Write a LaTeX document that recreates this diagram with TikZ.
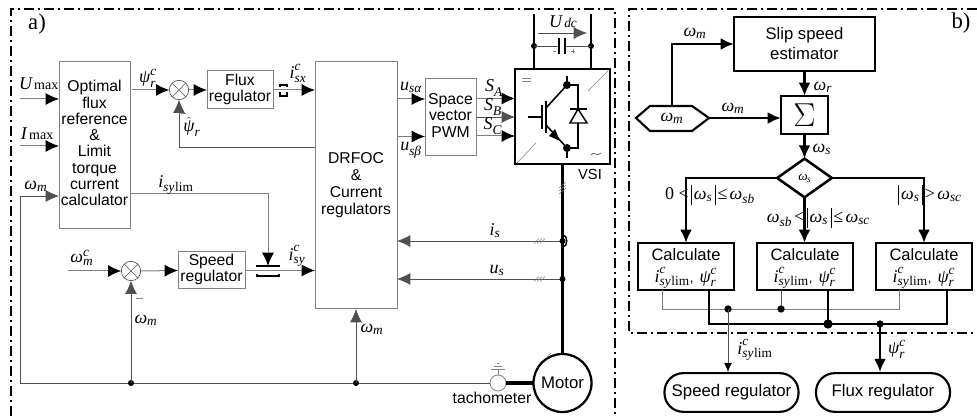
\documentclass[tikz,border=0pt]{standalone}
\usepackage{fontspec}
\setmainfont{Liberation Sans}
\newfontfamily\tmfont{Liberation Serif}
\usetikzlibrary{arrows.meta,calc,shapes.geometric}
\newcommand\tmi{\fontsize{13.5}{15}\selectfont\tmfont\itshape}
\newcommand\tms{\fontsize{10}{12}\selectfont\tmfont\itshape}
\newcommand\tmr{\fontsize{10.5}{13}\selectfont\tmfont}
\newcommand\tmo{\fontsize{13.5}{15}\selectfont\tmfont}
\newcommand\vsb[2]{$\hbox{\tmi #1}_{\hbox{\tms #2}}$}
\newcommand\vssx[3]{$\hbox{\tmi #1}^{\hbox{\tms #2}}_{\hbox{\tms #3}}$}
\newcommand\vlim{\hbox{\tms\kern0.5pt\upshape lim}}
\newcommand\vbr{\rule[-4.5pt]{0.55pt}{15.5pt}}
\newcommand\absw{\vbr\,\vsb{ω}{s}\,\vbr}
\newcommand\fnt[1]{\fontsize{#1}{#1}\selectfont}
\newcommand\pxbox[7][]{\node[#2,#1,minimum width={(#5-#3)*0.75pt},minimum height={(#6-#4)*0.75pt}] (#7) at ({(#3+#5)/2},{(#4+#6)/2})}
\definecolor{gb}{HTML}{808080}
\definecolor{gl}{HTML}{505050}
\tikzset{
  abox/.style={draw=gb,line width=0.75pt,inner sep=0pt,outer sep=0pt,align=center,font=\fnt{11.8}},
  bbox/.style={draw=black,line width=2pt,inner sep=0pt,outer sep=0pt,align=center,font=\fnt{12.5}},
  lbl/.style={inner sep=0pt,outer sep=0pt},
  ar/.style={draw=gl,line width=0.6pt,-{Latex[length=10pt,width=9pt]}},
  ln/.style={draw=gl,line width=0.6pt},
  gar/.style={draw=gb,line width=0.75pt,-{Latex[length=10pt,width=9pt,black]}},
  thk/.style={draw=black,line width=1.6pt},
  thb/.style={draw=black,line width=2pt},
  thar/.style={draw=black,line width=2pt,-{Latex[length=10pt,width=9pt]}},
  sumn/.style={circle,draw=gl,line width=0.5pt,minimum size=14.5pt,inner sep=0pt,outer sep=0pt,fill=white},
  dot/.style={circle,fill=black,inner sep=0pt,outer sep=0pt,minimum size=#1},
  dot/.default=4.5pt,
  frame/.style={draw=black,line width=#1,dash pattern=on 7.5pt off 3pt on 1.5pt off 3pt},
  tick/.style={draw=gb,line width=0.4pt},
  contact/.style={draw=black,line width=1.7pt},
}
\begin{document}
\begin{tikzpicture}[x=0.75pt,y=-0.75pt]
\useasboundingbox (0,0) rectangle (977,416);
% frames
\coordinate (fa1) at (11,416); \coordinate (fa2) at (11,9); \coordinate (fa3) at (615,9); \coordinate (fa4) at (615,416);
\draw[frame=1pt] (fa1) -- (fa2) -- (fa3) -- (fa4);
\coordinate (fb1) at (977,9); \coordinate (fb2) at (629,9); \coordinate (fb3) at (629,333); \coordinate (fb4) at (977,333);
\draw[frame=1.4pt] (fb1) -- (fb2) -- (fb3) -- (fb4);
\node[lbl,font=\tmfont\fnt{17}] (la) at (37,24) {a)};
\node[lbl,font=\tmfont\fnt{17}] (lb) at (961,23) {b)};
% panel a boxes
\pxbox{abox}{59}{62}{130}{229}{opt} {\raisebox{2pt}{\def\arraystretch{1.03}\begin{tabular}{@{}c@{}}Optimal\\flux\\reference\\\&\\Limit\\torque\\current\\calculator\end{tabular}}};
\pxbox{abox}{207}{71}{273}{109}{frg} {\def\arraystretch{0.96}\begin{tabular}{@{}c@{}}Flux\\regulator\end{tabular}};
\pxbox{abox}{315}{62}{397}{309}{drf} {\def\arraystretch{1.08}\begin{tabular}{@{}c@{}}DRFOC\\\&\\Current\\regulators\end{tabular}};
\pxbox{abox}{178}{252}{245}{289}{srg} {\def\arraystretch{0.96}\begin{tabular}{@{}c@{}}Speed\\regulator\end{tabular}};
\pxbox{abox}{425}{79}{476}{156}{pwm} {\def\arraystretch{1.05}\begin{tabular}{@{}c@{}}Space\\vector\\PWM\end{tabular}};
\pxbox{bbox}{515}{69}{610}{164}{vsi} {};
\node[sumn] (s1) at (179,90) {};
\draw[gl,line width=0.4pt] (s1.45) -- (s1.225) (s1.135) -- (s1.315);
\node[sumn] (s2) at (131,271) {};
\draw[gl,line width=0.4pt] (s2.45) -- (s2.225) (s2.135) -- (s2.315);
\node[circle,draw=black,line width=1.7pt,minimum size=43.5pt,inner sep=0pt,outer sep=0pt,font=\fnt{12.6}] (mot) at (562.5,383) {Motor};
\node[circle,draw=gb,line width=0.6pt,minimum size=12pt,inner sep=0pt,outer sep=0pt] (tach) at (498,383) {};
\node[lbl,font=\fnt{11.8}] (tl) at (492,398) {tachometer};
\node[lbl,font=\fnt{11}] (vl) at (590,174) {VSI};
% inputs to opt
\coordinate (u1) at (20,99); \coordinate (i1) at (20,146); \coordinate (wl) at (20,383); \coordinate (wc) at (20,196);
\draw[gar] (u1) -- (u1 -| opt.west);
\draw[gar] (i1) -- (i1 -| opt.west);
\node[lbl,anchor=west] (lu) at (19,84) {$\hbox{\tmi U}$\,\hbox{\tmr max}};
\node[lbl,anchor=west] (li) at (21,134) {$\hbox{\tmi I}$\,\hbox{\tmr max}};
\node[lbl] (lw) at (36,186) {\vsb{ω}{m}};
% omega feedback
\coordinate (d1) at (131,383); \coordinate (d2) at (356,383);
\draw[ln] (tach.west) -- (wl) -- (wc);
\draw[ar] (wc) -- (wc -| opt.west);
\node[dot] at (d1) {}; \node[dot] at (d2) {};
\draw[ar] (d1) -- (s2.south);
\draw[ar] (d2) -- (d2 |- drf.south);
\node[lbl] at (146,320) {\vsb{ω}{m}};
\node[lbl] at (372,329) {\vsb{ω}{m}};
\draw[gb,line width=0.7pt] (136,298) -- (143,298);
% flux channel
\coordinate (fo) at (132,90);
\draw[gar] (fo) -- (s1.west);
\draw[gar] (s1.east) -- (frg.west);
\draw[gar] (frg.east) -- (frg.east -| drf.west);
\node[lbl] at (148,78) {\vssx{ψ}{c}{r}};
\node[lbl] at (298,73) {\vssx{i}{c}{sx}};
\coordinate (fb) at (315,147);
\draw[ar] (fb) -- (fb -| s1) -- (s1.south);
\node[lbl] at (192,127) {$\hat{\hbox{\tmi ψ}}_{\hbox{\tms r}}$};
\draw[gb,line width=0.7pt] (181,113) -- (186,113);
\draw[contact] (279,85) -- (288,85) (279,96) -- (288,96);
\draw[contact] (280,85) -- (280,87.5) (287,85) -- (287,87.5) (280,92.5) -- (280,96) (287,92.5) -- (287,96);
% speed channel
\coordinate (wi) at (68,271);
\draw[gar] (wi) -- (s2.west);
\draw[gar] (s2.east) -- (srg.west);
\draw[gar] (srg.east) -- (srg.east -| drf.west);
\node[lbl] at (82,258) {\vssx{ω}{c}{m}};
\node[lbl] at (297,256) {\vssx{i}{c}{sy}};
\coordinate (ly) at (131,194); \coordinate (lc) at (268,194); \coordinate (lt) at (268,266);
\draw[gar] (ly) -- (lc) -- (lt);
\node[lbl] at (176,185) {$\hbox{\tmi i}_{\hbox{\tms sy}\vlim}$};
\draw[contact] (256,266) -- (280,266) (256,276) -- (280,276);
\draw[contact] (257,266) -- (257,267.5) (279,266) -- (279,267.5) (257,276) -- (257,274.5) (279,276) -- (279,274.5);
% PWM
\coordinate (ua) at (398,99); \coordinate (ub) at (398,136.5);
\draw[gar] (ua) -- (ua -| pwm.west);
\draw[gar] (ub) -- (ub -| pwm.west);
\node[lbl] at (411,87) {\vsb{u}{sα}};
\node[lbl] at (411,150) {\vsb{u}{sβ}};
\coordinate (sa) at (476,98.5); \coordinate (sb) at (476,117); \coordinate (sc) at (476,136);
\draw[gar] (sa) -- (sa -| vsi.west);
\draw[ar] (sb) -- (sb -| vsi.west);
\draw[gar] (sc) -- (sc -| vsi.west);
\node[lbl] at (494,88) {\vsb{S}{A}};
\node[lbl] at (493,107) {\vsb{S}{B}};
\node[lbl] at (493,126) {\vsb{S}{C}};
% DC link
\coordinate (dl) at (534,14); \coordinate (dr) at (591,14); \coordinate (dl2) at (534,46); \coordinate (dr2) at (591,46);
\draw[thk] (dl) -- (dl |- vsi.north);
\draw[thk] (dr) -- (dr |- vsi.north);
\node[dot] at (dl2) {}; \node[dot] at (dr2) {};
\coordinate (cl) at (559,46); \coordinate (cr) at (565,46);
\draw[ln] (dl2) -- (cl) (cr) -- (dr2);
\draw[black,line width=1.5pt] (559,38) -- (559,54) (565,38) -- (565,54);
\draw[gb,line width=0.5pt] (553,51) -- (556,51) (571,51) -- (575,51) (573,49) -- (573,53);
\coordinate (ud1) at (538,33); \coordinate (ud2) at (587,33);
\draw[ar] (ud1) -- (ud2);
\node[lbl] at (563,22) {$\hbox{\tmi U}$\,\hbox{\tms dc}};
% VSI inside
\coordinate (ct) at (567,85); \coordinate (et) at (567,148);
\draw[black,line width=1.1pt] (528,117) -- (541,117);
\draw[black,line width=1.1pt] (542,105) -- (542,129);
\draw[black,line width=1.6pt] (546,101) -- (546,133);
\draw[black,line width=1.2pt] (546,108) -- (ct);
\draw[black,line width=1.2pt] (546,125) -- (et);
\fill[black] (560,141) -- (549,136) -- (555,129) -- cycle;
\draw[black,line width=1.2pt] (567,76) -- (ct) -- (578,85) -- (578,148) -- (et) -- (567,158);
\node[dot=6pt] at (ct) {}; \node[dot=6pt] at (et) {};
\draw[black,line width=1.1pt,fill=white] (578,109) -- (570,123) -- (587,123) -- cycle;
\draw[black,line width=1.1pt] (570,109) -- (587,109);
\draw[gb,line width=0.4pt] (588,91) -- (608,71) (517,163) -- (536,143);
\draw[gb,line width=0.5pt] (522,78.5) -- (531,78.5) (522,81.5) -- (531,81.5);
\draw[gl,line width=0.5pt] (591,155) .. controls (594,150) and (597,158) .. (601,153);
% motor line
\coordinate (m0) at (mot.north);
\draw[thk] (vsi.south) -- (m0);
\draw[black,line width=2.6pt] (tach.east) -- (mot.west);
\coordinate (is) at (562.5,241); \coordinate (us) at (562.5,279);
\draw[ar] (is) -- (is -| drf.east);
\draw[ar] (us) -- (us -| drf.east);
\node[dot] at (is) {}; \node[dot] at (us) {};
\draw[black,line width=1.1pt] (563,235) .. controls (568,235) and (568,247) .. (563,247);
\node[lbl] at (495,231) {\vsb{i}{s}};
\node[lbl] at (497,270) {\vsb{u}{s}};
\foreach \px/\py in {534/241,537/241,540/241,534/279,537/279,540/279}{\draw[tick] (\px,\py+2.5) -- (\px+5,\py-2.5);}
\foreach \py in {185,188,191}{\draw[tick] (559,\py+3) -- (566,\py-3);}
\draw[tick] (546,358) -- (551,353);
% ground
\coordinate (g0) at (498,370);
\draw[gb,line width=0.6pt] (tach.north) -- (g0);
\draw[gb,line width=0.6pt] (491,369) -- (505,369) (494,366) -- (502,366) (497,363) -- (499,363);
% ---- panel b ----
\pxbox{bbox}{734}{17}{875}{71}{slip} {Slip speed\\[2.5pt]estimator};
\pxbox[font=\tmfont\fnt{26}]{bbox}{781}{96}{828}{134}{sig} {$\Sigma$};
\node[diamond,draw=black,line width=1.9pt,minimum width=41pt,minimum height=29pt,inner sep=0pt,outer sep=0pt,aspect=1.4] (dia) at (804.5,178) {\hbox{\fontsize{10}{10}\selectfont\tmfont\itshape ω\kern-0.5pt\raisebox{-1.5pt}{\fontsize{7}{7}\selectfont s}}};
\coordinate (hl) at (636,118); \coordinate (h1) at (650,106); \coordinate (h2) at (692,106); \coordinate (hr) at (709,118); \coordinate (h3) at (692,131); \coordinate (h4) at (650,131);
\draw[black,line width=1.6pt] (hl) -- (h1) -- (h2) -- (hr) -- (h3) -- (h4) -- cycle;
\node[lbl] at (672,118) {\vsb{ω}{m}};
\coordinate (ht) at (672,106); \coordinate (hu) at (672,44);
\draw[thar] (ht) -- (hu) -- (hu -| slip.west);
\node[lbl] at (695,33) {\vsb{ω}{m}};
\draw[thar] (hr) -- (hr -| sig.west);
\node[lbl] at (733,108) {\vsb{ω}{m}};
\draw[thar] (slip.south -| sig) -- (sig.north);
\node[lbl] at (823,87) {\vsb{ω}{r}};
\draw[thar] (sig.south) -- (dia.north);
\node[lbl] at (822,149) {\vsb{ω}{s}};
\pxbox{bbox}{638}{243}{734}{290}{c1} {};
\pxbox{bbox}{757}{243}{853}{290}{c2} {};
\pxbox{bbox}{876}{243}{972}{290}{c3} {};
\node[lbl,font=\fnt{12.4}] (c1a) at (686,255) {Calculate};
\node[lbl,font=\fnt{12.4}] (c2a) at (805,255) {Calculate};
\node[lbl,font=\fnt{12.4}] (c3a) at (924,255) {Calculate};
\node[lbl] (c1b) at (686,278) {$\hbox{\tmi i}^{\hbox{\tms c}}_{\hbox{\tms sy}\vlim}$, \,$\hbox{\tmi ψ}^{\hbox{\tms c}}_{\hbox{\tms r}}$};
\node[lbl] (c2b) at (805,278) {$\hbox{\tmi i}^{\hbox{\tms c}}_{\hbox{\tms sy}\vlim}$, \,$\hbox{\tmi ψ}^{\hbox{\tms c}}_{\hbox{\tms r}}$};
\node[lbl] (c3b) at (924,278) {$\hbox{\tmi i}^{\hbox{\tms c}}_{\hbox{\tms sy}\vlim}$, \,$\hbox{\tmi ψ}^{\hbox{\tms c}}_{\hbox{\tms r}}$};
\coordinate (ltop) at (686,178); \coordinate (rtop) at (924,178);
\draw[thar] (dia.west) -- (ltop) -- (ltop |- c1.north);
\draw[thar] (dia.south) -- (dia.south |- c2.north);
\draw[thar] (dia.east) -- (rtop) -- (rtop |- c3.north);
\node[lbl] at (710,195) {\hbox{\tmo 0 <}\,\absw\,\hbox{\tmo ≤}\,\vsb{ω}{sb}};
\node[lbl] at (930,195) {\absw\,\hbox{\tmo >}\,\vsb{ω}{sc}};
\node[lbl] at (818.5,218) {\vsb{ω}{sb}\,\hbox{\tmo <}\,\absw\,\hbox{\tmo ≤}\,\vsb{ω}{sc}};
% collect lines
\coordinate (t1) at (662,290); \coordinate (t2) at (781,290); \coordinate (t3) at (899,290);
\coordinate (t1b) at (662,309); \coordinate (t2b) at (781,309); \coordinate (t3b) at (899,309); \coordinate (tj) at (728,309);
\draw[gb,line width=0.7pt] (t1) -- (t1b) -- (t3b) -- (t3);
\draw[gl,line width=0.6pt] (t2) -- (t2b);
\coordinate (k1) at (709,290); \coordinate (k2) at (828,290); \coordinate (k3) at (947,290);
\coordinate (k1b) at (709,324); \coordinate (k2b) at (828,324); \coordinate (k3b) at (947,324); \coordinate (kj) at (880,324);
\draw[thb] (k1) -- (k1b) -- (k3b) -- (k3);
\draw[thb] (k2) -- (k2b);
\node[dot=7pt] at (k2b) {};
\node[dot=5.5pt] at (kj) {};
\node[dot=5.5pt] at (tj) {};
\node[dot=5.5pt] at (t2b) {};
\node[draw=black,line width=1.6pt,rounded corners=14pt,minimum width=100.5pt,minimum height=29pt,inner sep=0pt,font=\fnt{12.6}] (sr2) at (731.5,392.5) {Speed regulator};
\node[draw=black,line width=1.6pt,rounded corners=14pt,minimum width=100.5pt,minimum height=29pt,inner sep=0pt,font=\fnt{12.6}] (fr2) at (883,392.5) {Flux regulator};
\draw[gl,line width=0.6pt,-{Latex[length=7pt,width=6pt,black]}] (tj) -- (tj |- sr2.north);
\draw[thar] (kj) -- (kj |- fr2.north);
\node[lbl] at (755,350) {$\hbox{\tmi i}^{\hbox{\tms c}}_{\hbox{\tms sy}\vlim}$};
\node[lbl] at (897,349) {\vssx{ψ}{c}{r}};
\end{tikzpicture}
\end{document}
